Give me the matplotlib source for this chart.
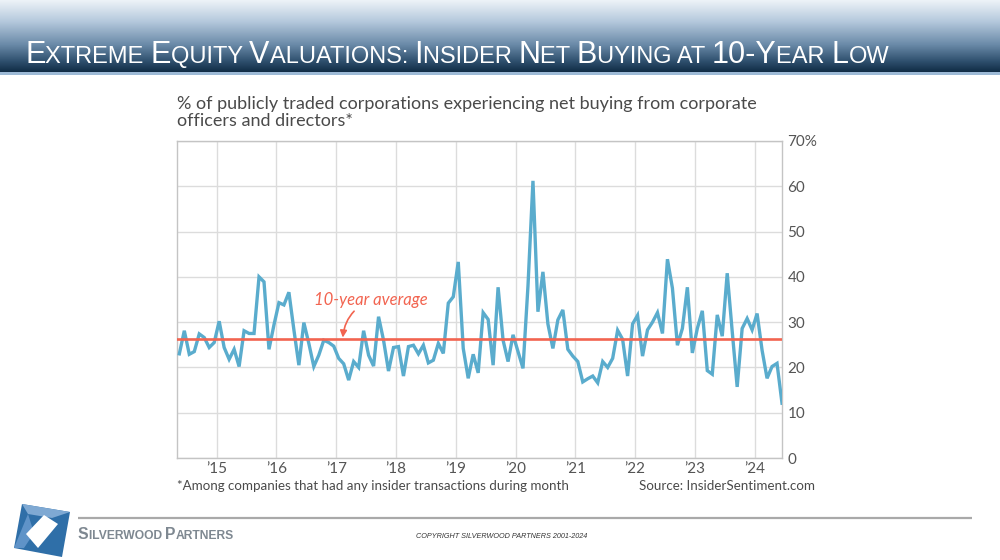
import numpy as np
import pandas as pd
import matplotlib
matplotlib.use("Agg")
import matplotlib.pyplot as plt
from matplotlib import font_manager as fm
from matplotlib.patches import Polygon, Rectangle
from matplotlib.colors import LinearSegmentedColormap

# ---------------- data ----------------
start_month = "2014-05"
values_2014 = [23.0, 28.1, 22.9, 23.5, 27.4, 26.6, 24.4, 25.5]
values_2015 = [30.2, 24.4, 21.8, 24.0, 20.2, 28.1, 27.5, 27.5, 40.0, 38.9, 24.0, 29.4]
values_2016 = [34.3, 33.8, 36.6, 28.3, 20.5, 29.9, 25.3, 20.2, 22.7, 26.0, 25.5, 24.7]
values_2017 = [22.0, 20.8, 17.2, 21.3, 20.0, 28.1, 22.7, 20.3, 31.2, 26.0, 19.2, 24.4]
values_2018 = [24.6, 18.1, 24.6, 24.9, 23.0, 24.9, 21.0, 21.6, 25.3, 23.1, 34.2, 35.6]
values_2019 = [43.3, 24.2, 17.6, 22.9, 18.8, 32.1, 30.6, 20.5, 37.7, 26.0, 21.3, 27.2]
values_2020 = [23.5, 19.8, 38.0, 61.2, 32.3, 41.1, 29.6, 24.2, 30.5, 32.7, 24.0, 22.5]
values_2021 = [21.3, 16.8, 17.5, 18.1, 16.6, 21.3, 20.0, 22.0, 28.2, 26.2, 18.1, 29.6]
values_2022 = [31.5, 22.5, 28.3, 30.0, 32.1, 27.5, 43.9, 37.5, 24.9, 28.6, 37.7, 23.2]
values_2023 = [28.6, 32.5, 19.3, 18.5, 31.6, 26.9, 40.8, 28.0, 15.7, 28.6, 30.8, 28.3]
values_2024 = [31.9, 23.8, 17.6, 20.2, 20.9, 12.1]
ten_year_average = 26.3

y_ticks = [0, 10, 20, 30, 40, 50, 60, 70]
y_tick_labels = ["0", "10", "20", "30", "40", "50", "60", "70%"]
x_tick_years = [2015, 2016, 2017, 2018, 2019, 2020, 2021, 2022, 2023, 2024]
x_tick_labels = ["\u201915", "\u201916", "\u201917", "\u201918", "\u201919",
                 "\u201920", "\u201921", "\u201922", "\u201923", "\u201924"]

title_text = "Extreme Equity Valuations: Insider Net Buying at 10-Year Low"
chart_title = ("% of publicly traded corporations experiencing net buying from corporate\n"
               "officers and directors*")
footnote = "*Among companies that had any insider transactions during month"
source = "Source: InsiderSentiment.com"
avg_label = "10-year average"
company = "Silverwood Partners"
copyright_text = "COPYRIGHT SILVERWOOD PARTNERS 2001-2024"

values = (values_2014 + values_2015 + values_2016 + values_2017 + values_2018 +
          values_2019 + values_2020 + values_2021 + values_2022 + values_2023 + values_2024)
months = pd.period_range(start=start_month, periods=len(values), freq="M")
t = np.array([p.year + (p.month - 0.5) / 12.0 for p in months])

# ---------------- fonts ----------------
avail = {f.name for f in fm.fontManager.ttflist}
narrow = "Liberation Sans Narrow" if "Liberation Sans Narrow" in avail else "Liberation Sans"
chart_font = ["Lato", "DejaVu Sans"]

BLUE = "#5aaccd"
RED = "#f26450"
GRID = "#dcdcdc"
TXT = "#4a4a4a"

fig = plt.figure(figsize=(10, 5.6), dpi=100)
bg = fig.add_axes([0, 0, 1, 1])
bg.set_xlim(0, 1000)
bg.set_ylim(560, 0)
bg.axis("off")

# header gradient bar
cmap = LinearSegmentedColormap.from_list(
    "hdr", [(0, "#eef3f8"), (0.3, "#b4c8dc"), (0.62, "#6a8aa8"), (0.85, "#2f506e"), (1, "#102c45")])
grad = np.linspace(0, 1, 256).reshape(-1, 1)
bg.imshow(grad, extent=[0, 1000, 72, 0], aspect="auto", cmap=cmap, zorder=0)
bg.add_patch(Rectangle((0, 72), 1000, 3, color="#9dbad6", lw=0, zorder=1))

renderer = fig.canvas.get_renderer()


def small_caps(ax, x, y, text, big, small, **kw):
    """Draw text in small caps by runs; returns end x (pixels)."""
    runs = []
    for ch in text:
        is_big = ch.isupper() or ch.isdigit() or ch == "-"
        size = big if is_big else small
        c = ch.upper()
        if runs and runs[-1][1] == size:
            runs[-1][0] += c
        else:
            runs.append([c, size])
    for s, size in runs:
        tx = ax.text(x, y, s, fontsize=size, va="baseline", ha="left", **kw)
        bb = tx.get_window_extent(renderer)
        x += bb.width
    return x


small_caps(bg, 25, 63, title_text, 22.0, 17.0, color="white", family=[narrow, "DejaVu Sans"])

# ---------------- chart ----------------
ax = fig.add_axes([0.177, 1 - 458 / 560, 0.605, 317 / 560])
ax.plot(t, values, color=BLUE, lw=2.4, solid_joinstyle="miter", zorder=3, clip_on=True)
ax.axhline(ten_year_average, color=RED, lw=1.9, zorder=4)
ax.set_xlim(2014.336, t[-1])
ax.set_ylim(0, 70)
ax.set_yticks(y_ticks)
ax.set_yticklabels(y_tick_labels)
ax.set_xticks(x_tick_years)
ax.set_xticklabels(x_tick_labels)
ax.yaxis.tick_right()
ax.tick_params(axis="both", length=0, labelsize=11, labelcolor="#555555")
ax.tick_params(axis="y", pad=4)
ax.tick_params(axis="x", pad=3)
for lab in ax.get_xticklabels() + ax.get_yticklabels():
    lab.set_family(chart_font)
for lab in ax.get_yticklabels():
    lab.set_horizontalalignment("left")
ax.grid(True, color=GRID, lw=1.0)
ax.set_axisbelow(True)
for sp in ax.spines.values():
    sp.set_color("#c4c4c4")
    sp.set_linewidth(1.0)

ax.annotate(avg_label, xy=(2017.11, ten_year_average + 0.3), xytext=(2016.62, 34.8),
            fontsize=12, style="italic", color=RED, family=chart_font, va="center", ha="left",
            arrowprops=dict(arrowstyle="-|>", color=RED, lw=1.2, mutation_scale=10,
                            shrinkA=0, shrinkB=0, connectionstyle="arc3,rad=0.3"),
            zorder=5)

# chart title and footnotes
bg.text(177, 96, chart_title, fontsize=13, color=TXT, family=chart_font,
        va="top", ha="left", linespacing=1.08)
bg.text(177, 486, footnote, fontsize=9.6, color=TXT, family=chart_font, va="center", ha="left")
bg.text(815, 486, source, fontsize=9.6, color=TXT, family=chart_font, va="center", ha="right")

# ---------------- footer ----------------
bg.plot([78, 972], [518, 518], color="#a9a9a9", lw=1.6, solid_capstyle="butt")
# logo
bg.add_patch(Polygon([(22, 504), (70, 512), (62, 557), (14, 548)], closed=True,
                     facecolor="#2f6fa8", edgecolor="none"))
bg.add_patch(Polygon([(22, 504), (70, 512), (52, 518), (28, 514)], closed=True,
                     facecolor="#7fa9d3", edgecolor="none"))
bg.add_patch(Polygon([(14, 548), (28, 514), (34, 533), (24, 548)], closed=True,
                     facecolor="#5f93c8", edgecolor="none"))
bg.add_patch(Polygon([(26, 534), (44, 515), (58, 524), (38, 548)], closed=True,
                     facecolor="white", edgecolor="none"))
small_caps(bg, 78, 539, company, 11.3, 8.7, color="#7e8891", weight="bold",
           family=["Liberation Sans", "DejaVu Sans"])
bg.text(502, 537, copyright_text, fontsize=5.2, style="italic", color="#333333",
        family=[narrow, "DejaVu Sans"], ha="center", va="center")

fig.savefig("out.png", dpi=100)
